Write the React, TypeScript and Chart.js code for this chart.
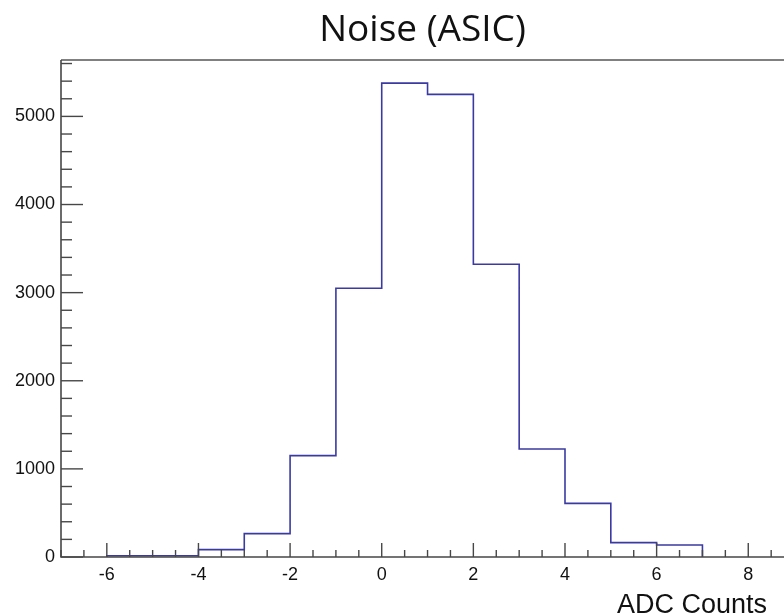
import React, { useEffect, useRef } from 'react';
import { Chart, registerables } from 'chart.js';

Chart.register(...registerables);

// ---- data ----
const binLowEdges = [-6, -5, -4, -3, -2, -1, 0, 1, 2, 3, 4, 5, 6];
const binWidth = 1;
const counts = [15, 15, 84, 265, 1150, 3050, 5378, 5250, 3322, 1225, 609, 163, 136];
const xMajorTicks = [-6, -4, -2, 0, 2, 4, 6, 8];
const yMajorTicks = [0, 1000, 2000, 3000, 4000, 5000];
const xMinorStep = 0.5;
const yMinorStep = 200;
const xRange = [-7, 8.78];
const yRange = [0, 5640];
const titleText = 'Noise (ASIC)';
const xAxisTitle = 'ADC Counts';

const framePlugin = {
  id: 'rootFrame',
  afterDatasetsDraw(chart: any) {
    const { ctx, chartArea, scales } = chart;
    const { left, right, top, bottom } = chartArea;
    const x = scales.x;
    const y = scales.y;
    ctx.save();
    // top frame line
    ctx.strokeStyle = '#808080';
    ctx.lineWidth = 2;
    ctx.beginPath();
    ctx.moveTo(left, top);
    ctx.lineTo(right, top);
    ctx.stroke();
    // axes
    ctx.strokeStyle = '#474747';
    ctx.lineWidth = 1.6;
    ctx.beginPath();
    ctx.moveTo(left, top);
    ctx.lineTo(left, bottom);
    ctx.lineTo(right, bottom);
    ctx.stroke();
    // x ticks (inside, pointing up)
    ctx.lineWidth = 1.4;
    const kx0 = Math.ceil(x.min / xMinorStep);
    const kx1 = Math.floor(x.max / xMinorStep);
    for (let k = kx0; k <= kx1; k++) {
      const v = k * xMinorStep;
      const px = x.getPixelForValue(v);
      const len = xMajorTicks.includes(v) ? 14 : 7;
      ctx.beginPath();
      ctx.moveTo(px, bottom);
      ctx.lineTo(px, bottom - len);
      ctx.stroke();
    }
    // y ticks (inside, pointing right)
    const ky1 = Math.floor(y.max / yMinorStep);
    for (let k = 0; k <= ky1; k++) {
      const v = k * yMinorStep;
      const py = y.getPixelForValue(v);
      const len = yMajorTicks.includes(v) ? 22 : 11;
      ctx.beginPath();
      ctx.moveTo(left, py);
      ctx.lineTo(left + len, py);
      ctx.stroke();
    }
    // x axis title, right-aligned like ROOT
    ctx.fillStyle = '#111';
    ctx.font = "27px 'Liberation Sans', Arial, sans-serif";
    ctx.textAlign = 'right';
    ctx.textBaseline = 'alphabetic';
    ctx.fillText(xAxisTitle, right - 17, 613);
    ctx.restore();
  },
};

export default function App() {
  const ref = useRef<HTMLCanvasElement | null>(null);

  useEffect(() => {
    if (!ref.current) return;
    const last = binLowEdges.length - 1;
    const points = [
      { x: binLowEdges[0], y: 0 },
      ...counts.map((c, i) => ({ x: binLowEdges[i], y: c })),
      { x: binLowEdges[last] + binWidth, y: 0 },
    ];
    const tickFont = { family: "'Liberation Sans', Arial, sans-serif", size: 18 };
    const chart = new Chart(ref.current, {
      type: 'line',
      data: {
        datasets: [
          {
            data: points,
            stepped: 'before',
            borderColor: '#3a3aa2',
            borderWidth: 1.6,
            pointRadius: 0,
            fill: false,
            tension: 0,
          },
        ],
      },
      options: {
        animation: false,
        responsive: true,
        maintainAspectRatio: false,
        devicePixelRatio: 1,
        layout: { padding: 0 },
        plugins: {
          legend: { display: false },
          tooltip: { enabled: false },
          title: {
            display: true,
            text: titleText,
            fullSize: false,
            color: '#111',
            font: { family: "'Open Sans', sans-serif", size: 37, weight: 'normal', lineHeight: 1.2 },
            padding: { top: 8, bottom: 7.6 },
          },
        },
        scales: {
          x: {
            type: 'linear',
            min: xRange[0],
            max: xRange[1],
            grid: { display: false, drawTicks: false },
            border: { display: false },
            afterBuildTicks: (s: any) => {
              s.ticks = xMajorTicks.map((v) => ({ value: v }));
            },
            afterFit: (s: any) => {
              s.height = 59;
            },
            ticks: {
              autoSkip: false,
              maxRotation: 0,
              padding: 7,
              color: '#111',
              font: tickFont,
              callback: (v: any) => String(v),
            },
          },
          y: {
            type: 'linear',
            min: yRange[0],
            max: yRange[1],
            grid: { display: false, drawTicks: false },
            border: { display: false },
            afterBuildTicks: (s: any) => {
              s.ticks = yMajorTicks.map((v) => ({ value: v }));
            },
            afterFit: (s: any) => {
              s.width = 61;
            },
            ticks: {
              autoSkip: false,
              padding: 6,
              color: '#111',
              font: tickFont,
              callback: (v: any) => String(v),
            },
          },
        },
      },
      plugins: [framePlugin],
    } as any);
    return () => chart.destroy();
  }, []);

  return (
    <div style={{ position: 'fixed', left: 0, top: 0, width: 784, height: 616, background: '#fff' }}>
      <canvas ref={ref} />
    </div>
  );
}
